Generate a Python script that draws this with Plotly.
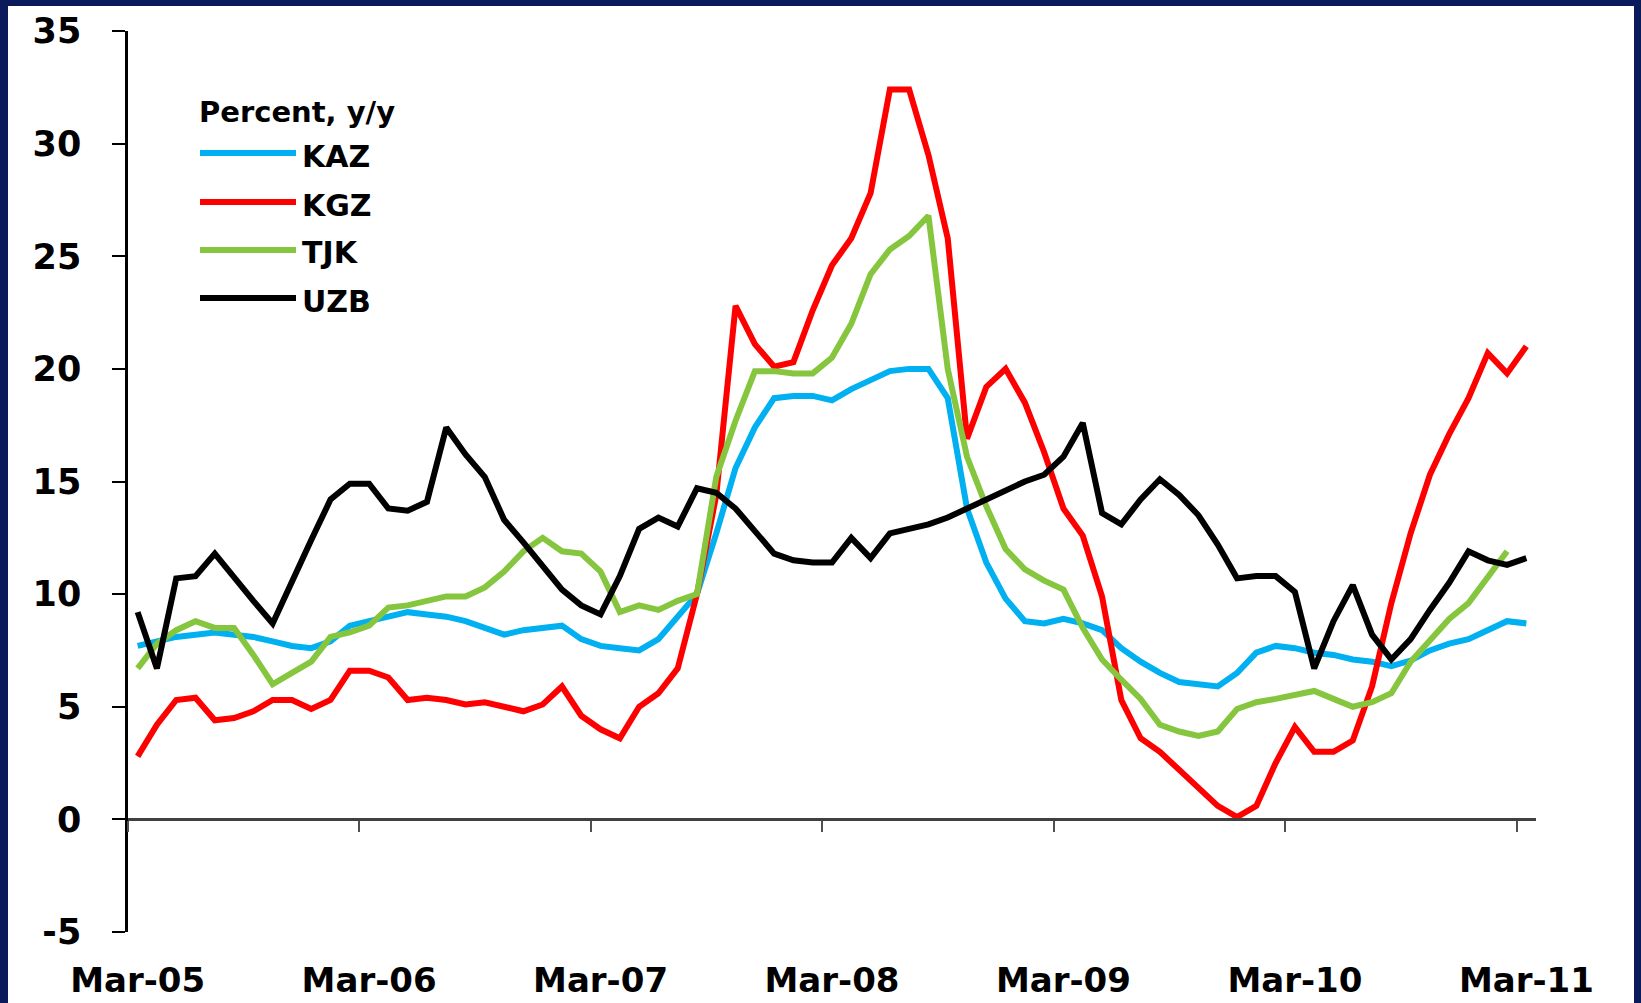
import plotly.graph_objects as go
import pandas as pd

# Monthly categories, Mar-05 .. Mar-11
months = list(pd.date_range("2005-03-01", "2011-03-01", freq="MS").strftime("%b-%y"))
tick_labels = ["Mar-05", "Mar-06", "Mar-07", "Mar-08", "Mar-09", "Mar-10", "Mar-11"]
y_ticks = [-5, 0, 5, 10, 15, 20, 25, 30, 35]
y_tick_text = ["-5", "0", "5", "10", "15", "20", "25", "30", "35"]
legend_title = "Percent, y/y"

kaz = [7.7, 7.9, 8.1, 8.2, 8.3, 8.2, 8.1, 7.9, 7.7, 7.6, 7.9, 8.6, 8.8,
       9.0, 9.2, 9.1, 9.0, 8.8, 8.5, 8.2, 8.4, 8.5, 8.6, 8.0, 7.7,
       7.6, 7.5, 8.0, 9.0, 10.0, 12.7, 15.6, 17.4, 18.7, 18.8, 18.8, 18.6,
       19.1, 19.5, 19.9, 20.0, 20.0, 18.7, 13.8, 11.4, 9.8, 8.8, 8.7, 8.9,
       8.7, 8.4, 7.6, 7.0, 6.5, 6.1, 6.0, 5.9, 6.5, 7.4, 7.7, 7.6,
       7.4, 7.3, 7.1, 7.0, 6.8, 7.05, 7.5, 7.8, 8.0, 8.4, 8.8, 8.7]

kgz = [2.8, 4.2, 5.3, 5.4, 4.4, 4.5, 4.8, 5.3, 5.3, 4.9, 5.3, 6.6, 6.6,
       6.3, 5.3, 5.4, 5.3, 5.1, 5.2, 5.0, 4.8, 5.1, 5.9, 4.6, 4.0,
       3.6, 5.0, 5.6, 6.7, 10.0, 14.4, 22.8, 21.1, 20.1, 20.3, 22.6, 24.6,
       25.8, 27.8, 32.4, 32.4, 29.5, 25.8, 16.9, 19.2, 20.0, 18.5, 16.3, 13.8,
       12.6, 9.9, 5.3, 3.6, 3.0, 2.2, 1.4, 0.6, 0.1, 0.6, 2.5, 4.1,
       3.0, 3.0, 3.5, 5.9, 9.6, 12.7, 15.3, 17.1, 18.7, 20.7, 19.8, 21.0]

tjk = [6.7, 7.8, 8.4, 8.8, 8.5, 8.5, 7.3, 6.0, 6.5, 7.0, 8.1, 8.3, 8.6,
       9.4, 9.5, 9.7, 9.9, 9.9, 10.3, 11.0, 11.9, 12.5, 11.9, 11.8, 11.0,
       9.2, 9.5, 9.3, 9.7, 10.0, 15.2, 17.7, 19.9, 19.9, 19.8, 19.8, 20.5,
       22.0, 24.2, 25.3, 25.9, 26.8, 20.0, 16.1, 13.9, 12.0, 11.1, 10.6, 10.2,
       8.5, 7.1, 6.2, 5.35, 4.2, 3.9, 3.7, 3.9, 4.9, 5.2, 5.35, 5.5,
       5.7, 5.35, 5.0, 5.2, 5.6, 7.0, 8.0, 8.9, 9.6, 10.7, 11.9, None]

uzb = [9.2, 6.7, 10.7, 10.8, 11.8, 10.7, 9.7, 8.7, 10.6, 12.4, 14.2, 14.9, 14.9,
       13.8, 13.7, 14.1, 17.4, 16.2, 15.2, 13.3, 12.3, 11.2, 10.2, 9.5, 9.1,
       10.8, 12.9, 13.4, 13.0, 14.7, 14.5, 13.8, 12.8, 11.8, 11.5, 11.4, 11.4,
       12.5, 11.6, 12.7, 12.9, 13.1, 13.4, 13.8, 14.2, 14.6, 15.0, 15.3, 16.1,
       17.6, 13.6, 13.1, 14.2, 15.1, 14.4, 13.5, 12.2, 10.7, 10.8, 10.8, 10.1,
       6.7, 8.8, 10.4, 8.2, 7.1, 8.0, 9.3, 10.5, 11.9, 11.5, 11.3, 11.6]

series_names = ["KAZ", "KGZ", "TJK", "UZB"]
series_values = [kaz, kgz, tjk, uzb]
series_colors = ["#00B0F0", "#FF0000", "#86C63F", "#000000"]

W, H = 1641, 1003
ML, MR, MT, MB = 128, 105, 31, 71
PW, PH = W - ML - MR, H - MT - MB


def px(x):
    return (x - ML) / PW


def py(y):
    return (H - MB - y) / PH


FONT = "DejaVu Sans"
LW = 6
fig = go.Figure()
for name, vals, color in zip(series_names, series_values, series_colors):
    fig.add_trace(go.Scatter(x=months, y=vals, name=name, mode="lines",
                             line=dict(color=color, width=LW),
                             showlegend=False))
# carrier trace for the zero-level axis
fig.add_trace(go.Scatter(x=[None], y=[None], xaxis="x2", yaxis="y",
                         showlegend=False, hoverinfo="skip"))

n = len(months)
ymin, ymax = y_ticks[0], y_ticks[-1]
zero_pos = (0 - ymin) / (ymax - ymin)

# custom legend
shapes = [dict(type="rect", xref="paper", yref="paper",
               x0=px(8), x1=px(1634), y0=py(1010), y1=py(6),
               fillcolor="white", line=dict(width=0), layer="below")]
annotations = [dict(text=legend_title, xref="paper", yref="paper",
                    x=px(197), y=py(112), xanchor="left", yanchor="middle",
                    showarrow=False,
                    font=dict(family=FONT, size=29, color="black", weight="bold"))]
row_y = [153, 202, 250, 298]
for name, color, ry in zip(series_names, series_colors, row_y):
    shapes.append(dict(type="line", xref="paper", yref="paper",
                       x0=px(200), x1=px(296), y0=py(ry), y1=py(ry),
                       line=dict(color=color, width=LW)))
    annotations.append(dict(text=name, xref="paper", yref="paper",
                            x=px(300), y=py(ry + 3), xanchor="left", yanchor="middle",
                            showarrow=False,
                            font=dict(family=FONT, size=30, color="black", weight="bold")))

fig.update_layout(
    width=W, height=H,
    margin=dict(l=ML, r=MR, t=MT, b=MB, autoexpand=False),
    paper_bgcolor="#0a1a5a",
    plot_bgcolor="white",
    showlegend=False,
    shapes=shapes,
    annotations=annotations,
    xaxis=dict(type="category", range=[-0.5, n - 0.5],
               tickmode="array", tickvals=tick_labels, ticktext=tick_labels,
               ticks="", showline=False, showgrid=False, zeroline=False,
               ticklabelstandoff=25,
               tickfont=dict(family=FONT, size=34, color="black", weight="bold")),
    xaxis2=dict(type="linear", overlaying="x", anchor="free", position=zero_pos,
                range=[-0.5, n - 0.5], showline=True, linecolor="#404040", linewidth=3,
                ticks="outside", tickmode="array",
                tickvals=[-0.5 + 12 * k for k in range(len(tick_labels))],
                ticklen=11, tickwidth=2, tickcolor="#505050",
                showticklabels=False, showgrid=False, zeroline=False),
    yaxis=dict(range=[ymin, ymax], tickmode="array", tickvals=y_ticks,
               ticktext=y_tick_text,
               showline=True, linecolor="black", linewidth=2.5,
               ticks="outside", ticklen=13, tickwidth=2, tickcolor="black",
               showgrid=False, zeroline=False, ticklabelstandoff=24,
               tickfont=dict(family=FONT, size=35, color="black", weight="bold")),
)

fig.write_html("out.html", config={"displayModeBar": False},
               post_script="document.body.style.margin='0';")
